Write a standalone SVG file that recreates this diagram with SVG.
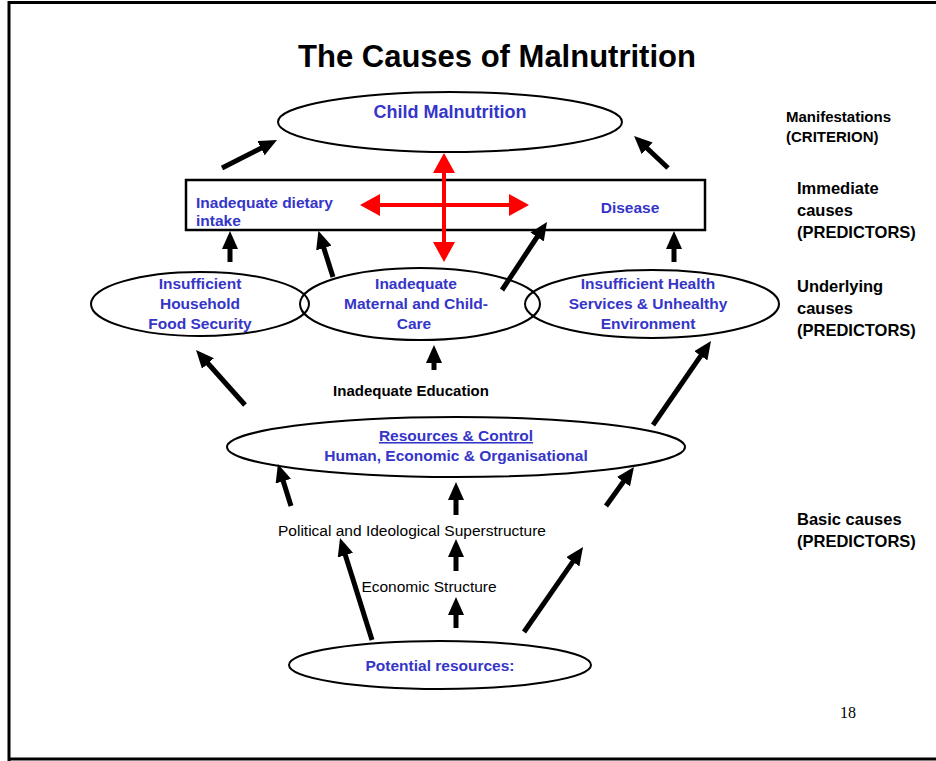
<svg xmlns="http://www.w3.org/2000/svg" width="936" height="761" viewBox="0 0 936 761">
  <style>
    .frame { fill: none; stroke: #000; stroke-width: 3; }
    .node { fill: none; stroke: #000; stroke-width: 2; }
    .box { fill: none; stroke: #000; stroke-width: 2.5; }
    .lbl { font-family: "Liberation Sans", Arial, sans-serif; font-weight: bold; font-size: 15.5px; fill: #3535c8; text-anchor: middle; }
    .side { font-family: "Liberation Sans", Arial, sans-serif; font-weight: bold; font-size: 16.5px; fill: #000; }
    .plain { font-family: "Liberation Sans", Arial, sans-serif; font-size: 15.5px; fill: #000; text-anchor: middle; }
    .arrow { stroke: #000; stroke-width: 5; fill: none; marker-end: url(#head); }
    .red { stroke: #f00; stroke-width: 4; fill: none; marker-start: url(#rhead); marker-end: url(#rhead); }
  </style>
  <defs>
    <marker id="head" viewBox="0 0 18 16" refX="6" refY="8" markerWidth="18" markerHeight="16" markerUnits="userSpaceOnUse" orient="auto">
      <path d="M0,0 L18,8 L0,16 z" fill="#000"/>
    </marker>
    <marker id="rhead" viewBox="0 0 20 22" refX="6" refY="11" markerWidth="20" markerHeight="22" markerUnits="userSpaceOnUse" orient="auto-start-reverse">
      <path d="M0,0 L20,11 L0,22 z" fill="#f00"/>
    </marker>
  </defs>

  <rect x="0" y="0" width="936" height="761" fill="#fff"/>
  <!-- slide frame -->
  <path class="frame" d="M9,761 V2.5 H936 M9,759 H936"/>

  <text x="497" y="67" font-family="Liberation Sans, Arial, sans-serif" font-weight="bold" font-size="31" text-anchor="middle">The Causes of Malnutrition</text>

  <!-- level labels -->
  <g id="level-labels">
    <text class="side" x="786" y="122" style="font-size:15px">Manifestations</text>
    <text class="side" x="786" y="142" style="font-size:15px">(CRITERION)</text>
    <text class="side" x="797" y="194">Immediate</text>
    <text class="side" x="797" y="216">causes</text>
    <text class="side" x="797" y="238">(PREDICTORS)</text>
    <text class="side" x="797" y="292">Underlying</text>
    <text class="side" x="797" y="314">causes</text>
    <text class="side" x="797" y="336">(PREDICTORS)</text>
    <text class="side" x="797" y="525">Basic causes</text>
    <text class="side" x="797" y="547">(PREDICTORS)</text>
  </g>

  <g id="child-malnutrition">
    <ellipse class="node" cx="450" cy="122" rx="172" ry="30"/>
    <text class="lbl" x="450" y="118" style="font-size:18px">Child Malnutrition</text>
  </g>

  <g id="immediate-causes">
    <rect class="box" x="186" y="180" width="519" height="50"/>
    <text class="lbl" x="196" y="208" style="text-anchor:start">Inadequate dietary</text>
    <text class="lbl" x="196" y="226" style="text-anchor:start">intake</text>
    <text class="lbl" x="630" y="213">Disease</text>
  </g>

  <g id="food-security">
    <ellipse class="node" cx="200" cy="304" rx="109" ry="32"/>
    <text class="lbl" x="200" y="289">Insufficient</text>
    <text class="lbl" x="200" y="309">Household</text>
    <text class="lbl" x="200" y="329">Food Security</text>
  </g>

  <g id="maternal-care">
    <ellipse class="node" cx="420" cy="304" rx="120" ry="36"/>
    <text class="lbl" x="416" y="289">Inadequate</text>
    <text class="lbl" x="416" y="309">Maternal and Child-</text>
    <text class="lbl" x="414" y="329">Care</text>
  </g>

  <g id="health-services">
    <ellipse class="node" cx="652" cy="304" rx="127" ry="34"/>
    <text class="lbl" x="648" y="289">Insufficient Health</text>
    <text class="lbl" x="648" y="309">Services &amp; Unhealthy</text>
    <text class="lbl" x="648" y="329">Environment</text>
  </g>

  <g id="education">
    <text class="plain" x="411" y="396" style="font-weight:bold;font-size:15px">Inadequate Education</text>
  </g>

  <g id="resources-control">
    <ellipse class="node" cx="456" cy="447" rx="229" ry="30"/>
    <text class="lbl" x="456" y="441" text-decoration="underline">Resources &amp; Control</text>
    <text class="lbl" x="456" y="461">Human, Economic &amp; Organisational</text>
  </g>

  <g id="superstructure">
    <text class="plain" x="412" y="536">Political and Ideological Superstructure</text>
  </g>

  <g id="economic-structure">
    <text class="plain" x="429" y="592">Economic Structure</text>
  </g>

  <g id="potential-resources">
    <ellipse class="node" cx="440" cy="665" rx="151" ry="24"/>
    <text class="lbl" x="440" y="671">Potential resources:</text>
  </g>

  <g id="connectors">
    <!-- immediate causes to manifestation -->
    <line class="arrow" x1="222" y1="168" x2="266.3" y2="145.5"/>
    <line class="arrow" x1="668" y1="168" x2="642.8" y2="144.2"/>
    <!-- interaction between intake and disease -->
    <line class="red" x1="374" y1="205" x2="515" y2="205"/>
    <line class="red" x1="444" y1="167" x2="444" y2="248"/>
    <!-- underlying to immediate -->
    <line class="arrow" x1="230" y1="262" x2="230" y2="243"/>
    <line class="arrow" x1="333" y1="277" x2="322" y2="242.3"/>
    <line class="arrow" x1="502" y1="290" x2="540.4" y2="232"/>
    <line class="arrow" x1="674" y1="262" x2="674" y2="243"/>
    <!-- resources to underlying -->
    <line class="arrow" x1="245" y1="405" x2="204" y2="359"/>
    <line class="arrow" x1="434" y1="370" x2="434" y2="357"/>
    <line class="arrow" x1="653" y1="425" x2="704.2" y2="350.9"/>
    <!-- basic structure to resources -->
    <line class="arrow" x1="291" y1="506" x2="281.5" y2="475.5"/>
    <line class="arrow" x1="456" y1="515" x2="456" y2="494"/>
    <line class="arrow" x1="606" y1="506" x2="627" y2="476.8"/>
    <!-- potential resources upward -->
    <line class="arrow" x1="372" y1="640" x2="343.6" y2="549.4"/>
    <line class="arrow" x1="456" y1="571" x2="456" y2="551"/>
    <line class="arrow" x1="524" y1="632" x2="576.2" y2="556.9"/>
    <line class="arrow" x1="456" y1="628" x2="456" y2="609"/>
  </g>

  <text x="848" y="718" font-family="Liberation Serif, Times New Roman, serif" font-size="16" text-anchor="middle">18</text>
</svg>
